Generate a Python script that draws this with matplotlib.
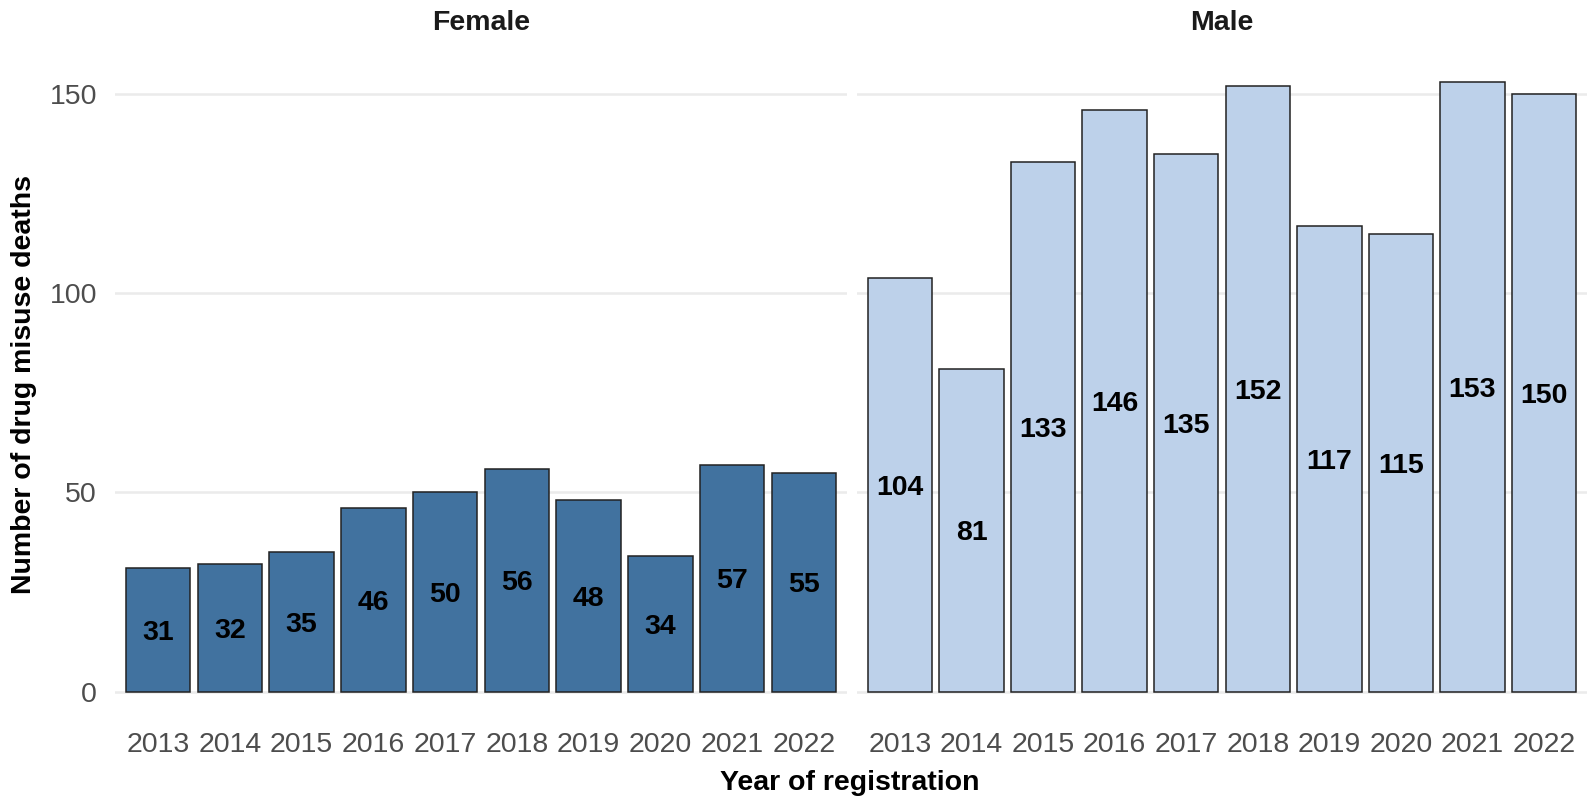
import matplotlib
matplotlib.use("Agg")
import matplotlib.pyplot as plt

years = ["2013", "2014", "2015", "2016", "2017", "2018", "2019", "2020", "2021", "2022"]
female = [31, 32, 35, 46, 50, 56, 48, 34, 57, 55]
male = [104, 81, 133, 146, 135, 152, 117, 115, 153, 150]
panels = ["Female", "Male"]
colors = ["#41729F", "#BDD1EA"]
yticks = [0, 50, 100, 150]

plt.rcParams['font.family'] = ['Liberation Sans', 'DejaVu Sans']

W, H = 1587, 799
fig = plt.figure(figsize=(W / 100, H / 100), dpi=100)
fig.patch.set_facecolor("white")

ymax = max(max(female), max(male))
ylo, yhi = -0.05 * ymax, 1.05 * ymax

bottom_px, top_px = 722, 52
boxes = [(115, 732), (857, 730)]
series = [female, male]
FS = 20.5

for i, (name, vals, col, (x0, w)) in enumerate(zip(panels, series, colors, boxes)):
    ax = fig.add_axes([x0 / W, (H - bottom_px) / H, w / W, (bottom_px - top_px) / H])
    ax.set_facecolor("white")
    xs = list(range(1, len(years) + 1))
    ax.bar(xs, vals, width=0.9, color=col, edgecolor="#222222", linewidth=1.1, zorder=3)
    for x, v in zip(xs, vals):
        ax.text(x, v / 2, str(v), ha="center", va="center_baseline", fontsize=FS,
                fontweight="bold", color="black", zorder=4)
    ax.set_xlim(0.4, len(years) + 0.6)
    ax.set_ylim(ylo, yhi)
    ax.set_xticks(xs)
    ax.set_xticklabels(years, fontsize=FS, color="#4D4D4D")
    ax.set_yticks(yticks)
    if i == 0:
        ax.set_yticklabels([str(t) for t in yticks], fontsize=FS, color="#4D4D4D")
    else:
        ax.set_yticklabels([])
    ax.tick_params(axis="both", length=0)
    ax.tick_params(axis="x", pad=7)
    ax.tick_params(axis="y", pad=13)
    ax.grid(axis="y", color="#EBEBEB", linewidth=1.8, zorder=0)
    ax.grid(axis="x", visible=False)
    for s in ax.spines.values():
        s.set_visible(False)
    ax.set_title(name, fontsize=FS, fontweight="bold", pad=16, color="#1a1a1a")

fig.text(850 / W, 1 - 783 / H, "Year of registration", ha="center", va="center",
         fontsize=FS, fontweight="bold")
fig.text(24 / W, 1 - 385 / H, "Number of drug misuse deaths", ha="center", va="center",
         rotation=90, fontsize=FS, fontweight="bold")

fig.savefig("out.png", dpi=100, facecolor="white")
